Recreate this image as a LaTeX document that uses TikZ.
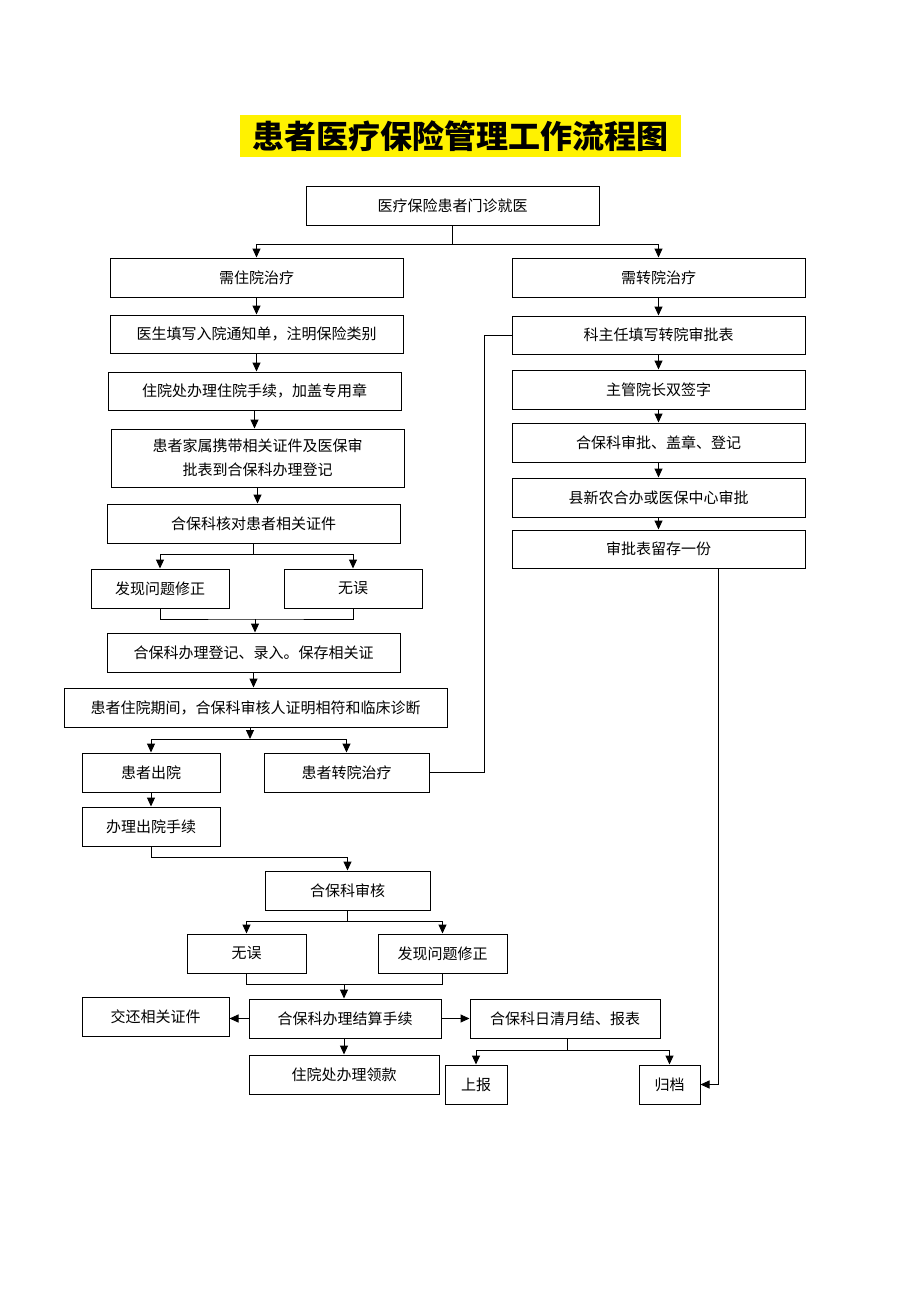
\documentclass[tikz,border=0pt]{standalone}
\usepackage{fontspec}
\setmainfont{Noto Sans CJK SC}
\usetikzlibrary{arrows.meta,positioning}
\tikzset{
  box/.style={draw, line width=1pt, inner sep=0pt, align=center,
    minimum height=39pt, font=\fontsize{15}{24}\selectfont},
  flow/.style={-{Triangle[length=9pt,width=8pt]}, line width=1pt},
  link/.style={line width=1pt},
}

\begin{document}
\begin{tikzpicture}[x=1pt, y=-1pt]
\useasboundingbox (0,0) rectangle (920,1302);

% Title
\node[fill=yellow, inner sep=0pt, minimum width=441pt, minimum height=42pt,
  font=\fontsize{32}{36}\selectfont\bfseries] (title) at (460.5,136) {患者医疗保险管理工作流程图};

% Start
\node[box, minimum width=293pt] (clinic) at (452.5,205.5) {医疗保险患者门诊就医};

% Left column (inpatient)
\node[box, minimum width=293pt] (inpat) at (256.5,277.5) {需住院治疗};
\node[box, minimum width=293pt, minimum height=38pt] (notice) at (256.5,334) {医生填写入院通知单，注明保险类别};
\node[box, minimum width=293pt, minimum height=38pt] (admit) at (254.5,391) {住院处办理住院手续，加盖专用章};
\node[box, minimum width=293pt, minimum height=58pt] (family) at (257.5,458) {患者家属携带相关证件及医保审\\批表到合保科办理登记};
\node[box, minimum width=293pt] (check) at (253.5,523.5) {合保科核对患者相关证件};
\node[box, minimum width=138pt] (fix1) at (160,588.5) {发现问题修正};
\node[box, minimum width=138pt] (ok1) at (353,588.5) {无误};
\node[box, minimum width=293pt] (reg) at (253.5,652.5) {合保科办理登记、录入。保存相关证};
\node[box, minimum width=383pt] (stay) at (255.5,707.5) {患者住院期间，合保科审核人证明相符和临床诊断};
\node[box, minimum width=138pt] (out) at (151,772.5) {患者出院};
\node[box, minimum width=165pt] (move) at (346.5,772.5) {患者转院治疗};
\node[box, minimum width=138pt] (leave) at (151,826.5) {办理出院手续};
\node[box, minimum width=165pt] (audit) at (347.5,890.5) {合保科审核};
\node[box, minimum width=119pt] (ok2) at (246.5,953.5) {无误};
\node[box, minimum width=129pt] (fix2) at (442.5,953.5) {发现问题修正};
\node[box, minimum width=192pt] (settle) at (345,1018.5) {合保科办理结算手续};
\node[box, minimum width=147pt] (return) at (155.5,1016.5) {交还相关证件};
\node[box, minimum width=190pt] (daily) at (565,1018.5) {合保科日清月结、报表};
\node[box, minimum width=190pt] (pay) at (344,1074.5) {住院处办理领款};
\node[box, minimum width=62pt] (report) at (476,1084.5) {上报};
\node[box, minimum width=61pt] (archive) at (669.5,1084.5) {归档};

% Right column (transfer)
\node[box, minimum width=293pt] (transfer) at (658.5,277.5) {需转院治疗};
\node[box, minimum width=293pt, minimum height=38pt] (approve) at (658.5,335) {科主任填写转院审批表};
\node[box, minimum width=293pt] (sign) at (658.5,389.5) {主管院长双签字};
\node[box, minimum width=293pt] (stamp) at (658.5,442.5) {合保科审批、盖章、登记};
\node[box, minimum width=293pt] (county) at (658.5,497.5) {县新农合办或医保中心审批};
\node[box, minimum width=293pt, minimum height=38pt] (keep) at (658.5,549) {审批表留存一份};

% Junctions
\coordinate (j1) at (453,244);
\coordinate (j2) at (253.5,554);
\coordinate (m1) at (255,619);
\coordinate (j3) at (250,739);
\coordinate (t1) at (484,335);
\coordinate (j4) at (347,921);
\coordinate (m2) at (344,984);
\coordinate (j5) at (567,1050);
\coordinate (k1) at (718,1084.5);

% Start split
\draw[link] (clinic.south) -- (clinic.south |- j1);
\draw[flow] (j1) -| (inpat.north);
\draw[flow] (j1) -| (transfer.north);

% Left chain
\draw[flow] (inpat.south) -- (inpat.south |- notice.north);
\draw[flow] (notice.south) -- (notice.south |- admit.north);
\draw[flow] (admit.south) -- (admit.south |- family.north);
\draw[flow] (family.south) -- (family.south |- check.north);
\draw[link] (check.south) -- (j2);
\draw[flow] (j2) -| (fix1.north);
\draw[flow] (j2) -| (ok1.north);
\draw[link] (fix1.south) |- (m1) -| (ok1.south);
\draw[flow] (m1) -- (m1 |- reg.north);
\draw[flow] (reg.south) -- (reg.south |- stay.north);
\draw[flow] (stay.south -| j3) -- (j3);
\draw[flow] (j3) -| (out.north);
\draw[flow] (j3) -| (move.north);
\draw[flow] (out.south) -- (leave.north);
\draw[link] (move.east) -| (t1) -- (approve.west);
\draw[flow] (leave.south) -- ++(0,11) -| (audit.north);
\draw[link] (audit.south) -- (audit.south |- j4);
\draw[flow] (j4) -| (ok2.north);
\draw[flow] (j4) -| (fix2.north);
\draw[link] (ok2.south) |- (m2) -| (fix2.south);
\draw[flow] (m2) -- (m2 |- settle.north);
\draw[flow] (settle.west) -- (settle.west -| return.east);
\draw[flow] (settle.east) -- (daily.west);
\draw[flow] (settle.south -| pay.north) -- (pay.north);
\draw[link] (daily.south -| j5) -- (j5);
\draw[flow] (j5) -| (report.north);
\draw[flow] (j5) -| (archive.north);

% Right chain
\draw[flow] (transfer.south) -- (approve.north);
\draw[flow] (approve.south) -- (sign.north);
\draw[flow] (sign.south) -- (stamp.north);
\draw[flow] (stamp.south) -- (county.north);
\draw[flow] (county.south) -- (keep.north);
\draw[flow] (keep.south -| k1) -- (k1) -- (archive.east);
\end{tikzpicture}
\end{document}
